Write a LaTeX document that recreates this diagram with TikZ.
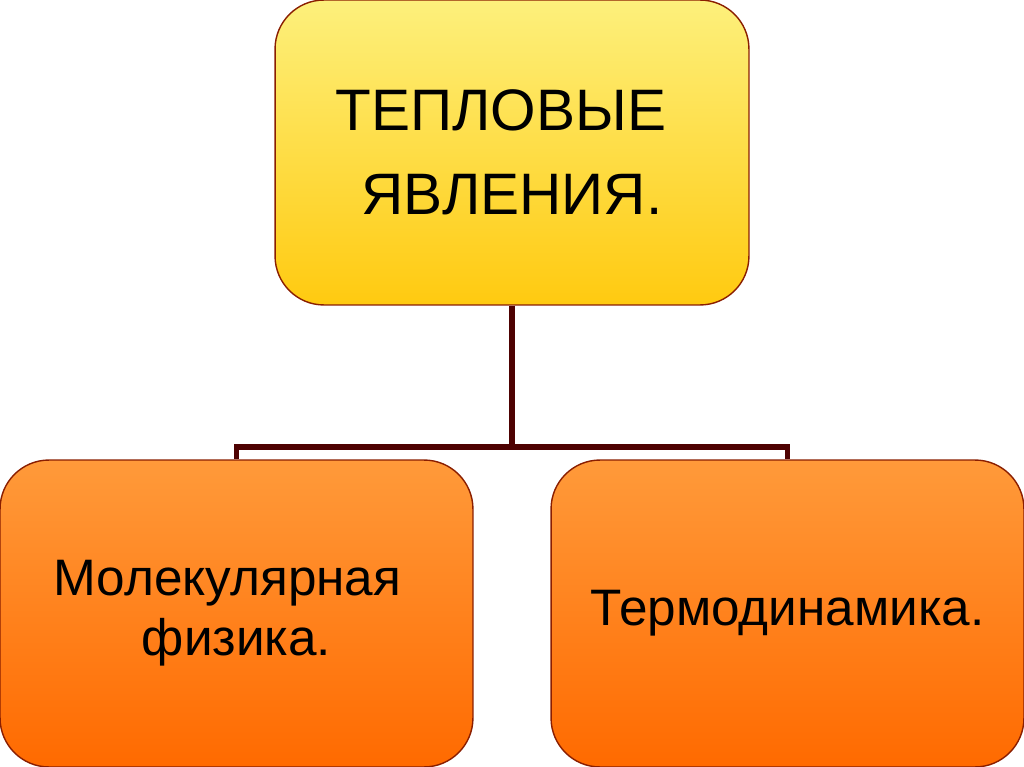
\documentclass[tikz,border=0pt]{standalone}
\usepackage{fontspec}
\setmainfont{Liberation Sans}
\usepackage{tikz}

\definecolor{lightyellow}{HTML}{FDF07C}
\definecolor{deepyellow}{HTML}{FFCA10}
\definecolor{lightorange}{HTML}{FF9A3A}
\definecolor{deeporange}{HTML}{FF6A00}
\definecolor{rimred}{HTML}{8A1E00}
\definecolor{busbrown}{HTML}{4E0202}

\begin{document}
\begin{tikzpicture}[x=0.02cm,y=-0.02cm,
  box/.style={draw=rimred,line width=0.8pt,rounded corners=0.98cm,align=center,inner sep=0pt},
  head/.style={box,top color=lightyellow,bottom color=deepyellow,minimum width=9.48cm,minimum height=6.1cm,font=\fontsize{33.3}{47.8}\selectfont},
  branch/.style={box,top color=lightorange,bottom color=deeporange,minimum width=9.46cm,minimum height=6.14cm,font=\fontsize{29.2}{34}\selectfont},
  bus/.style={draw=busbrown,line width=3.4pt}]

\useasboundingbox (0,0) rectangle (1024,767);

\node[head] (heat) at (512,152.5) {ТЕПЛОВЫЕ\kern0.45cm\\ЯВЛЕНИЯ.};

\node[branch] (molec) at (236.5,613.5) {Молекулярная\kern0.36cm\\физика.};
\node[branch] (thermo) at (787.5,613.5) {Термодинамика.};

\coordinate (split) at (512,447);

\draw[bus] (heat.south) -- (split);
\draw[bus] (split) -| (molec.north);
\draw[bus] (split) -| (thermo.north);

\end{tikzpicture}
\end{document}
